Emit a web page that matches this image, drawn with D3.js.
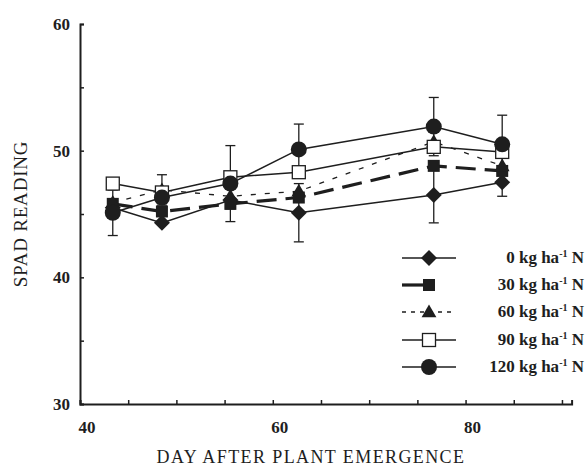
<!DOCTYPE html>
<html>
<head>
<meta charset="utf-8">
<script src="https://cdn.jsdelivr.net/npm/d3@7"></script>
<style>
  body { margin: 0; background: #fff; }
  svg { display: block; }
  text { font-family: "Liberation Serif", "DejaVu Serif", serif; fill: #1e1e1e; }
</style>
</head>
<body>
<script>
// days after emergence
const days = [43.4, 48.5, 55.6, 62.7, 76.7, 83.8];

// SPAD readings per N rate
const n0   = [45.5, 44.3, 46.1, 45.1, 46.5, 47.5];
const n30  = [45.8, 45.2, 45.8, 46.3, 48.8, 48.4];
const n60  = [45.9, 46.9, 46.4, 46.8, 50.7, 48.8];
const n90  = [47.4, 46.7, 47.9, 48.3, 50.3, 49.9];
const n120 = [45.1, 46.3, 47.4, 50.1, 51.9, 50.5];

// error bars (only the visible ones)
const e0   = [0, 0, 1.7, 2.3, 2.2, 1.1];
const e30  = [0, 0, 0, 0, 0, 0];
const e60  = [0, 1.2, 0, 0, 0, 0];
const e90  = [0, 0, 2.5, 0, 0, 0];
const e120 = [1.8, 0, 0, 2.0, 2.3, 2.3];

const labels = ["0", "30", "60", "90", "120"];
const yTicks = [30, 40, 50, 60];
const xTicks = [40, 60, 80];

const series = [
  { name: labels[0], vals: n0,   err: e0,   sym: "diamond",  dash: null,    width: 1.5 },
  { name: labels[1], vals: n30,  err: e30,  sym: "square",   dash: "20,9",  width: 3.2 },
  { name: labels[2], vals: n60,  err: e60,  sym: "triangle", dash: "5,9",   width: 1.3 },
  { name: labels[3], vals: n90,  err: e90,  sym: "open",     dash: null,    width: 1.5 },
  { name: labels[4], vals: n120, err: e120, sym: "circle",   dash: null,    width: 1.5 }
];

const W = 586, H = 466;
const ink = "#1e1e1e";

const svg = d3.select("body").append("svg")
  .attr("width", W).attr("height", H);

const x = d3.scaleLinear().domain([40, 91]).range([80, 571.6]);
const y = d3.scaleLinear().domain([30, 60]).range([404, 24]);

// axes
const xAxis = svg.append("g")
  .attr("transform", "translate(0," + y(30) + ")")
  .call(d3.axisBottom(x).tickValues(d3.range(40, 91, 5)).tickSize(-4).tickFormat(""));
const yAxis = svg.append("g")
  .attr("transform", "translate(" + x(40) + ",0)")
  .call(d3.axisLeft(y).tickValues(d3.range(30, 61, 5)).tickSize(-4).tickFormat(""));
[xAxis, yAxis].forEach(a => {
  a.select(".domain").attr("stroke", ink).attr("stroke-width", 2);
  a.selectAll(".tick line").attr("stroke", ink).attr("stroke-width", 1.5);
});

svg.selectAll(".xlab").data(xTicks).enter().append("text")
  .attr("x", d => x(d) + 7).attr("y", 433)
  .attr("text-anchor", "middle")
  .attr("font-size", 17).attr("font-weight", "bold")
  .text(d => d);

svg.selectAll(".ylab").data(yTicks).enter().append("text")
  .attr("x", 70).attr("y", d => y(d) + 6)
  .attr("text-anchor", "end")
  .attr("font-size", 17).attr("font-weight", "bold")
  .text(d => d);

svg.append("text")
  .attr("transform", "translate(27," + y(45) + ") rotate(-90)")
  .attr("text-anchor", "middle")
  .attr("font-size", 19)
  .attr("letter-spacing", 0.8)
  .text("SPAD READING");

svg.append("text")
  .attr("x", 311).attr("y", 463)
  .attr("text-anchor", "middle")
  .attr("font-size", 18)
  .attr("letter-spacing", 1.4)
  .text("DAY AFTER PLANT EMERGENCE");

// markers
function drawSymbol(g, type, cx, cy) {
  if (type === "diamond") {
    const r = 8;
    g.append("path")
      .attr("d", `M${cx},${cy - r}L${cx + r},${cy}L${cx},${cy + r}L${cx - r},${cy}Z`)
      .attr("fill", ink);
  } else if (type === "square") {
    g.append("rect").attr("x", cx - 6).attr("y", cy - 6)
      .attr("width", 12).attr("height", 12).attr("fill", ink);
  } else if (type === "triangle") {
    g.append("path").attr("d", d3.symbol(d3.symbolTriangle, 95)())
      .attr("transform", "translate(" + cx + "," + (cy + 1) + ")")
      .attr("fill", ink);
  } else if (type === "open") {
    g.append("rect").attr("x", cx - 6.5).attr("y", cy - 6.5)
      .attr("width", 13).attr("height", 13)
      .attr("fill", "#fff").attr("stroke", ink).attr("stroke-width", 1.3);
  } else {
    g.append("circle").attr("cx", cx).attr("cy", cy).attr("r", 8).attr("fill", ink);
  }
}

const line = d3.line().x(d => x(d[0])).y(d => y(d[1]));

// error bars
series.forEach(s => {
  s.vals.forEach((v, i) => {
    if (!s.err[i]) return;
    const cx = x(days[i]);
    const g = svg.append("g").attr("stroke", ink).attr("stroke-width", 1.3);
    g.append("line").attr("x1", cx).attr("x2", cx)
      .attr("y1", y(v - s.err[i])).attr("y2", y(v + s.err[i]));
    [v - s.err[i], v + s.err[i]].forEach(t => {
      g.append("line").attr("x1", cx - 5).attr("x2", cx + 5)
        .attr("y1", y(t)).attr("y2", y(t));
    });
  });
});

// lines
series.forEach(s => {
  svg.append("path")
    .datum(days.map((d, i) => [d, s.vals[i]]))
    .attr("d", line)
    .attr("fill", "none")
    .attr("stroke", ink)
    .attr("stroke-width", s.width)
    .attr("stroke-dasharray", s.dash);
});

// points
series.forEach(s => {
  const g = svg.append("g");
  s.vals.forEach((v, i) => drawSymbol(g, s.sym, x(days[i]), y(v)));
});

// legend
const legY = [258, 285, 312, 340, 367];
series.forEach((s, i) => {
  const g = svg.append("g");
  const ly = legY[i];
  if (s.sym === "square") {
    g.append("line").attr("x1", 402).attr("x2", 428).attr("y1", ly).attr("y2", ly)
      .attr("stroke", ink).attr("stroke-width", s.width);
  } else {
    g.append("line").attr("x1", 402).attr("x2", 456).attr("y1", ly).attr("y2", ly)
      .attr("stroke", ink).attr("stroke-width", s.width)
      .attr("stroke-dasharray", s.dash ? "4,5" : null);
  }
  drawSymbol(g, s.sym, 429, ly);
  const t = g.append("text")
    .attr("x", 584).attr("y", ly + 5)
    .attr("text-anchor", "end")
    .attr("font-size", 17).attr("font-weight", "bold");
  t.append("tspan").text(s.name + " kg ha");
  t.append("tspan").attr("dy", -6).attr("font-size", 10).text("-1");
  t.append("tspan").attr("dy", 6).text(" N");
});
</script>
</body>
</html>
